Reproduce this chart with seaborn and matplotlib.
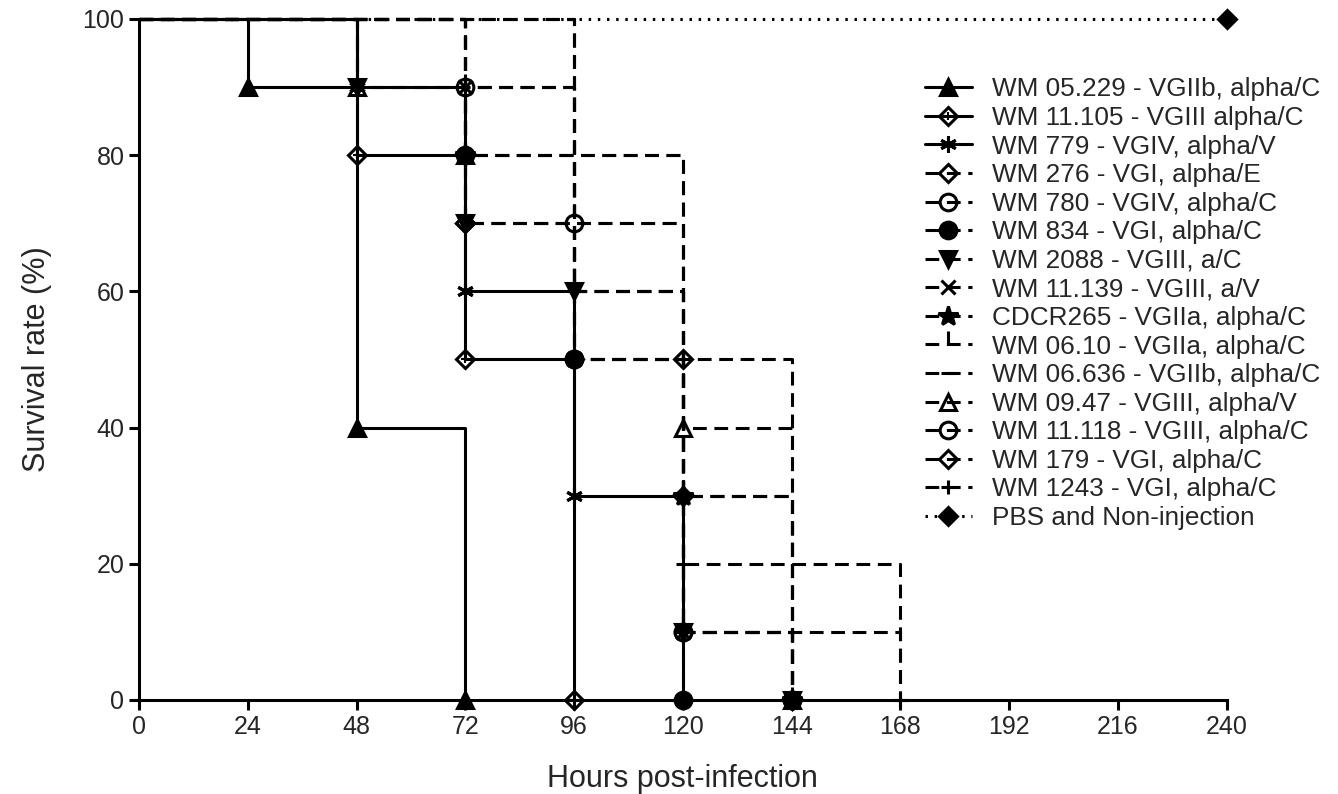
import matplotlib
matplotlib.use("Agg")
import matplotlib.pyplot as plt
import seaborn as sns
from matplotlib.lines import Line2D

# Survival data (hours post-infection, % survival)
labels = [
    "WM 05.229 - VGIIb, alpha/C",
    "WM 11.105 - VGIII alpha/C",
    "WM 779 - VGIV, alpha/V",
    "WM 276 - VGI, alpha/E",
    "WM 780 - VGIV, alpha/C",
    "WM 834 - VGI, alpha/C",
    "WM 2088 - VGIII, a/C",
    "WM 11.139 - VGIII, a/V",
    "CDCR265 - VGIIa, alpha/C",
    "WM 06.10 - VGIIa, alpha/C",
    "WM 06.636 - VGIIb, alpha/C",
    "WM 09.47 - VGIII, alpha/V",
    "WM 11.118 - VGIII, alpha/C",
    "WM 179 - VGI, alpha/C",
    "WM 1243 - VGI, alpha/C",
    "PBS and Non-injection",
]

wm05229_t = [0, 24, 48, 72]
wm05229_s = [100, 90, 40, 0]
wm11105_t = [0, 48, 72, 96]
wm11105_s = [100, 80, 50, 0]
wm779_t = [0, 48, 72, 96, 120]
wm779_s = [100, 90, 60, 30, 0]
wm276_t = [0, 72, 120, 144]
wm276_s = [100, 70, 50, 0]
wm780_t = [0, 96, 120, 144]
wm780_s = [100, 70, 10, 0]
wm834_t = [0, 72, 96, 120]
wm834_s = [100, 80, 50, 0]
wm2088_t = [0, 48, 72, 96, 120, 144]
wm2088_s = [100, 90, 70, 60, 10, 0]
wm11139_t = [0, 72, 96, 120, 144]
wm11139_s = [100, 90, 50, 10, 0]
cdcr265_t = [0, 72, 120, 144]
cdcr265_s = [100, 80, 30, 0]
wm0610_t = [0, 72, 96, 120, 144]
wm0610_s = [100, 90, 60, 30, 0]
wm06636_t = [0, 96, 120, 168]
wm06636_s = [100, 60, 20, 0]
wm0947_t = [0, 48, 72, 120, 144]
wm0947_s = [100, 90, 80, 40, 0]
wm11118_t = [0, 72, 96, 120, 144]
wm11118_s = [100, 90, 50, 10, 0]
wm179_t = [0, 72, 96, 120, 144]
wm179_s = [100, 70, 50, 30, 0]
wm1243_t = [0, 96, 120, 168]
wm1243_s = [100, 60, 10, 0]
pbs_t = [0, 240]
pbs_s = [100, 100]

x_ticks = [0, 24, 48, 72, 96, 120, 144, 168, 192, 216, 240]
y_ticks = [0, 20, 40, 60, 80, 100]

series_t = [wm05229_t, wm11105_t, wm779_t, wm276_t, wm780_t, wm834_t, wm2088_t,
            wm11139_t, cdcr265_t, wm0610_t, wm06636_t, wm0947_t, wm11118_t,
            wm179_t, wm1243_t, pbs_t]
series_s = [wm05229_s, wm11105_s, wm779_s, wm276_s, wm780_s, wm834_s, wm2088_s,
            wm11139_s, cdcr265_s, wm0610_s, wm06636_s, wm0947_s, wm11118_s,
            wm179_s, wm1243_s, pbs_s]

DASH = (0, (4.5, 2.5))
DOT = (0, (0.8, 2.2))
# (linestyle, marker, filled, extra marker overlaid)
styles = [
    ("-", "^", True, None),
    ("-", "D", False, "+"),
    ("-", (6, 2, 0), True, None),
    (DASH, "D", False, None),
    (DASH, "o", False, None),
    (DASH, "o", True, None),
    (DASH, "v", True, None),
    (DASH, "x", True, None),
    (DASH, "*", True, None),
    (DASH, 2, True, None),
    (DASH, "_", True, None),
    (DASH, "^", False, None),
    (DASH, "o", False, None),
    (DASH, "D", False, None),
    (DASH, "+", True, None),
    (DOT, "D", True, None),
]

sns.set_style("ticks")
plt.rcParams["font.family"] = ["Liberation Sans", "DejaVu Sans"]

fig = plt.figure(figsize=(13.38, 7.94), dpi=100)
ax = fig.add_axes([0.1039, 0.1184, 0.813, 0.8577])

LW = 2.2
MS = 12
handles = []
for t, s, (ls, mk, filled, extra) in zip(series_t, series_s, styles):
    sns.lineplot(x=t, y=s, ax=ax, estimator=None, sort=False, drawstyle="steps-post",
                 color="black", lw=LW, ls=ls, clip_on=False, legend=False)
    mfc = "black" if filled else "none"
    size = MS * 0.8 if mk in ("D", "x", "+", 2, "_") else MS
    if mk == "*":
        size = MS * 1.2
    mx, my = t[1:], s[1:]
    if ls == DOT:
        mx, my = t[-1:], s[-1:]
    ax.plot(mx, my, ls="none", marker=mk, ms=size, mfc=mfc, mec="black",
            mew=2.2, clip_on=False, zorder=4)
    h = Line2D([], [], color="black", lw=LW, ls=ls, marker=mk, ms=size,
               mfc=mfc, mec="black", mew=2.2)
    if extra is not None:
        ax.plot(mx, my, ls="none", marker=extra, ms=size * 0.6, mec="black",
                mew=1.5, clip_on=False, zorder=5)
        h2 = Line2D([], [], ls="none", marker=extra, ms=size * 0.6, mec="black", mew=1.5)
        h = (h, h2)
    handles.append(h)

ax.set_xlim(0, 240)
ax.set_ylim(0, 100)
ax.set_xticks(x_ticks)
ax.set_yticks(y_ticks)
ax.tick_params(axis="both", labelsize=18, width=2.2, length=7, color="black")
for side in ["left", "bottom"]:
    ax.spines[side].set_linewidth(2.2)
    ax.spines[side].set_color("black")
sns.despine(ax=ax)
ax.set_xlabel("Hours post-infection", fontsize=22, labelpad=18)
ax.set_ylabel("Survival rate (%)", fontsize=22, labelpad=22)

ax.legend(handles, labels, loc="upper left", bbox_to_anchor=(0.691, 0.9025),
          bbox_transform=fig.transFigure, frameon=False, fontsize=18.8,
          handlelength=1.8, handletextpad=0.8, labelspacing=0.175, borderpad=0,
          borderaxespad=0)

fig.savefig("out.png", dpi=100)
